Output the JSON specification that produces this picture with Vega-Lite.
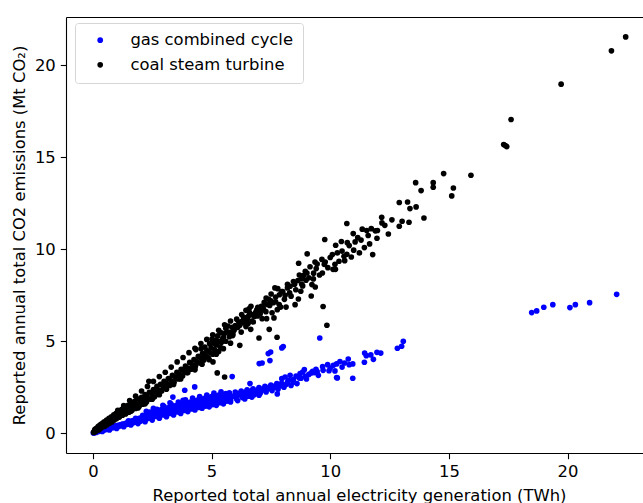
{
  "$schema": "https://vega.github.io/schema/vega-lite/v6.json",
  "autosize": {"type": "none"},
  "padding": {"left": 66, "top": 17, "right": 0, "bottom": 50},
  "width": 577,
  "height": 436,
  "config": {
    "font": "DejaVu Sans",
    "view": {"stroke": null},
    "axis": {
      "grid": false,
      "domainColor": "#000000",
      "domainWidth": 1.1,
      "tickColor": "#000000",
      "tickWidth": 1.1,
      "tickSize": 5.7,
      "labelColor": "#000000",
      "labelFontSize": 16.4,
      "titleColor": "#000000",
      "titleFontSize": 16.4,
      "titleFontWeight": "normal"
    }
  },
  "datasets": {
    "gas": [
      {"x":0.02,"y":0.02},{"x":0.05,"y":0.03},{"x":0.08,"y":0.05},{"x":0.1,"y":0.07},{"x":0.13,"y":0.05},{"x":0.15,"y":0.1},{"x":0.18,"y":0.08},{"x":0.2,"y":0.12},{"x":0.23,"y":0.1},{"x":0.26,"y":0.14},
      {"x":0.3,"y":0.12},{"x":0.33,"y":0.17},{"x":0.36,"y":0.14},{"x":0.4,"y":0.2},{"x":0.43,"y":0.17},{"x":0.47,"y":0.22},{"x":0.5,"y":0.19},{"x":0.54,"y":0.25},{"x":0.58,"y":0.21},{"x":0.62,"y":0.28},
      {"x":0.66,"y":0.24},{"x":0.7,"y":0.3},{"x":0.74,"y":0.27},{"x":0.78,"y":0.33},{"x":0.82,"y":0.3},{"x":0.86,"y":0.36},{"x":0.9,"y":0.32},{"x":0.95,"y":0.4},{"x":1.0,"y":0.35},{"x":1.05,"y":0.43},
      {"x":1.1,"y":0.38},{"x":1.15,"y":0.46},{"x":1.2,"y":0.42},{"x":1.25,"y":0.5},{"x":1.3,"y":0.45},{"x":1.35,"y":0.53},{"x":1.4,"y":0.48},{"x":1.45,"y":0.58},{"x":1.5,"y":0.5},{"x":1.55,"y":0.62},
      {"x":1.6,"y":0.54},{"x":1.65,"y":0.68},{"x":1.7,"y":0.57},{"x":1.75,"y":0.72},{"x":1.8,"y":0.6},{"x":1.85,"y":0.76},{"x":1.9,"y":0.63},{"x":1.95,"y":0.82},{"x":2.0,"y":0.66},{"x":2.05,"y":0.86},
      {"x":2.1,"y":0.72},{"x":2.15,"y":0.92},{"x":2.2,"y":0.75},{"x":2.25,"y":0.98},{"x":2.3,"y":0.8},{"x":2.35,"y":1.05},{"x":2.4,"y":0.84},{"x":2.45,"y":1.1},{"x":2.5,"y":0.88},{"x":2.55,"y":1.0},
      {"x":2.6,"y":1.18},{"x":2.65,"y":0.92},{"x":2.7,"y":1.08},{"x":2.75,"y":1.25},{"x":2.8,"y":0.96},{"x":2.85,"y":1.12},{"x":2.9,"y":1.3},{"x":2.95,"y":1.0},{"x":3.0,"y":1.18},{"x":3.05,"y":1.35},
      {"x":3.1,"y":1.04},{"x":3.15,"y":1.22},{"x":3.2,"y":1.4},{"x":3.25,"y":1.08},{"x":3.3,"y":1.28},{"x":3.35,"y":1.45},{"x":3.37,"y":1.97},{"x":3.4,"y":1.12},{"x":3.45,"y":1.32},{"x":3.5,"y":1.5},
      {"x":3.55,"y":1.16},{"x":3.6,"y":1.38},{"x":3.65,"y":1.55},{"x":3.7,"y":1.2},{"x":3.75,"y":1.42},{"x":3.8,"y":1.6},{"x":3.8,"y":1.79},{"x":3.85,"y":1.24},{"x":3.87,"y":2.34},{"x":3.9,"y":1.47},
      {"x":3.95,"y":1.65},{"x":4.0,"y":1.28},{"x":4.05,"y":1.52},{"x":4.1,"y":1.7},{"x":4.15,"y":1.32},{"x":4.2,"y":1.56},{"x":4.25,"y":1.75},{"x":4.29,"y":2.52},{"x":4.3,"y":1.36},{"x":4.35,"y":1.6},
      {"x":4.4,"y":1.8},{"x":4.45,"y":1.4},{"x":4.5,"y":1.65},{"x":4.55,"y":1.85},{"x":4.6,"y":1.44},{"x":4.65,"y":1.7},{"x":4.7,"y":1.9},{"x":4.75,"y":1.48},{"x":4.8,"y":1.74},{"x":4.85,"y":1.95},
      {"x":4.9,"y":1.52},{"x":4.95,"y":1.78},{"x":5.0,"y":2.0},{"x":5.05,"y":1.56},{"x":5.1,"y":1.82},{"x":5.15,"y":2.04},{"x":5.2,"y":1.6},{"x":5.25,"y":1.86},{"x":5.3,"y":2.08},{"x":5.35,"y":1.66},
      {"x":5.4,"y":1.9},{"x":5.45,"y":2.12},{"x":5.5,"y":1.7},{"x":5.55,"y":1.94},{"x":5.6,"y":2.16},{"x":5.65,"y":1.75},{"x":5.7,"y":1.98},{"x":5.75,"y":2.2},{"x":5.8,"y":1.8},{"x":5.87,"y":3.08},
      {"x":5.9,"y":2.02},{"x":6.0,"y":2.24},{"x":6.05,"y":1.88},{"x":6.15,"y":2.08},{"x":6.25,"y":2.3},{"x":6.3,"y":1.95},{"x":6.4,"y":2.14},{"x":6.5,"y":2.36},{"x":6.55,"y":2.02},{"x":6.62,"y":2.7},
      {"x":6.65,"y":2.2},{"x":6.75,"y":2.42},{"x":6.8,"y":2.1},{"x":6.9,"y":2.28},{"x":7.0,"y":2.48},{"x":7.01,"y":3.79},{"x":7.05,"y":2.18},{"x":7.13,"y":3.82},{"x":7.15,"y":2.35},{"x":7.25,"y":2.55},
      {"x":7.3,"y":2.25},{"x":7.39,"y":4.33},{"x":7.4,"y":2.42},{"x":7.46,"y":3.95},{"x":7.49,"y":4.42},{"x":7.5,"y":2.62},{"x":7.55,"y":2.32},{"x":7.65,"y":2.5},{"x":7.75,"y":2.7},{"x":7.77,"y":2.14},
      {"x":7.8,"y":2.4},{"x":7.9,"y":2.58},{"x":7.96,"y":2.97},{"x":7.96,"y":4.64},{"x":8.02,"y":4.71},{"x":8.05,"y":2.5},{"x":8.1,"y":3.06},{"x":8.15,"y":2.66},{"x":8.25,"y":2.88},{"x":8.31,"y":3.15},
      {"x":8.35,"y":2.6},{"x":8.45,"y":2.78},{"x":8.56,"y":3.11},{"x":8.6,"y":2.7},{"x":8.73,"y":3.24},{"x":8.77,"y":2.99},{"x":8.84,"y":3.33},{"x":8.91,"y":3.46},{"x":9.0,"y":2.95},{"x":9.1,"y":3.2},
      {"x":9.26,"y":3.37},{"x":9.33,"y":3.3},{"x":9.4,"y":3.48},{"x":9.5,"y":3.15},{"x":9.56,"y":5.18},{"x":9.68,"y":3.62},{"x":9.89,"y":3.73},{"x":9.95,"y":3.4},{"x":10.13,"y":3.7},{"x":10.2,"y":3.39},
      {"x":10.27,"y":3.77},{"x":10.27,"y":3.03},{"x":10.3,"y":3.01},{"x":10.41,"y":3.9},{"x":10.76,"y":4.04},{"x":10.8,"y":3.73},{"x":10.95,"y":3.77},{"x":10.95,"y":2.99},{"x":11.44,"y":3.86},{"x":11.45,"y":4.36},
      {"x":11.52,"y":4.22},{"x":11.71,"y":4.26},{"x":11.82,"y":4.02},{"x":11.97,"y":4.4},{"x":12.13,"y":4.36},{"x":12.83,"y":4.62},{"x":13.01,"y":4.73},{"x":13.08,"y":5.0},
      {"x":18.49,"y":6.56},{"x":18.7,"y":6.65},{"x":19.0,"y":6.85},{"x":19.38,"y":6.99},{"x":20.1,"y":6.83},{"x":20.33,"y":6.99},{"x":20.93,"y":7.1},{"x":22.07,"y":7.55},
      {"x":1.5,"y":0.68},{"x":1.8,"y":0.82},{"x":2.1,"y":0.98},{"x":2.4,"y":1.15},{"x":2.7,"y":1.3},{"x":3.0,"y":1.45},{"x":3.3,"y":1.58},{"x":3.6,"y":1.7},{"x":3.9,"y":1.82},{"x":4.2,"y":1.92},
      {"x":4.5,"y":2.0},{"x":4.8,"y":2.08},{"x":5.1,"y":2.18},{"x":5.4,"y":2.25},
      {"x":2.55,"y":1.36},{"x":2.95,"y":1.52},{"x":3.25,"y":1.65},{"x":2.25,"y":1.2},
      {"x":0.6,"y":0.3},{"x":0.9,"y":0.38},{"x":1.2,"y":0.48},{"x":1.6,"y":0.6},{"x":2.0,"y":0.78},{"x":2.4,"y":0.95},{"x":2.8,"y":1.06},{"x":3.2,"y":1.22},{"x":3.6,"y":1.3},{"x":4.0,"y":1.42},
      {"x":4.4,"y":1.55},{"x":4.8,"y":1.65},{"x":5.2,"y":1.75},{"x":5.6,"y":1.86},{"x":6.0,"y":2.0},{"x":6.2,"y":2.18},{"x":6.45,"y":2.25},{"x":6.7,"y":2.32},{"x":6.95,"y":2.38},{"x":7.2,"y":2.45},
      {"x":7.45,"y":2.52},{"x":7.7,"y":2.6},{"x":7.95,"y":2.72},{"x":8.2,"y":2.78},{"x":8.45,"y":2.92},{"x":8.7,"y":3.0},{"x":8.95,"y":3.1},{"x":9.2,"y":3.28},{"x":9.45,"y":3.35},{"x":9.7,"y":3.42},
      {"x":10.0,"y":3.55},{"x":10.5,"y":3.6},{"x":10.6,"y":3.82},
      {"x":0.4,"y":0.1},{"x":0.7,"y":0.18},{"x":1.0,"y":0.26},{"x":1.3,"y":0.36},{"x":1.6,"y":0.45},{"x":1.9,"y":0.53},{"x":2.2,"y":0.63},{"x":2.5,"y":0.72},{"x":2.8,"y":0.82},{"x":3.1,"y":0.9},
      {"x":3.4,"y":1.0},{"x":3.7,"y":1.08},{"x":4.0,"y":1.18},{"x":4.3,"y":1.27},{"x":4.6,"y":1.36},{"x":4.9,"y":1.44},{"x":5.2,"y":1.52},{"x":5.5,"y":1.6},{"x":5.8,"y":1.7},{"x":6.1,"y":1.78},
      {"x":6.4,"y":1.87},{"x":6.7,"y":1.97},{"x":7.0,"y":2.07}
    ],
    "coal": [
      {"x":0.03,"y":0.05},{"x":0.06,"y":0.12},{"x":0.08,"y":0.2},{"x":0.1,"y":0.08},{"x":0.12,"y":0.25},{"x":0.15,"y":0.15},{"x":0.18,"y":0.3},{"x":0.2,"y":0.22},{"x":0.23,"y":0.38},{"x":0.25,"y":0.18},
      {"x":0.28,"y":0.33},{"x":0.3,"y":0.45},{"x":0.33,"y":0.28},{"x":0.36,"y":0.5},{"x":0.4,"y":0.36},{"x":0.42,"y":0.56},{"x":0.45,"y":0.42},{"x":0.48,"y":0.62},{"x":0.5,"y":0.38},{"x":0.54,"y":0.55},
      {"x":0.58,"y":0.72},{"x":0.6,"y":0.47},{"x":0.64,"y":0.66},{"x":0.68,"y":0.82},{"x":0.7,"y":0.55},{"x":0.74,"y":0.74},{"x":0.78,"y":0.9},{"x":0.8,"y":0.62},{"x":0.84,"y":0.82},{"x":0.88,"y":1.0},
      {"x":0.9,"y":0.72},{"x":0.94,"y":0.9},{"x":0.98,"y":1.08},{"x":1.0,"y":0.8},{"x":1.05,"y":0.98},{"x":1.1,"y":1.18},{"x":1.12,"y":0.88},{"x":1.17,"y":1.06},{"x":1.22,"y":1.3},{"x":1.25,"y":0.98},
      {"x":1.3,"y":1.16},{"x":1.35,"y":1.4},{"x":1.38,"y":1.05},{"x":1.43,"y":1.26},{"x":1.48,"y":1.52},{"x":1.52,"y":1.15},{"x":1.56,"y":1.36},{"x":1.6,"y":1.6},{"x":1.65,"y":1.25},{"x":1.7,"y":1.48},
      {"x":1.75,"y":1.72},{"x":1.8,"y":1.35},{"x":1.85,"y":1.58},{"x":1.9,"y":1.86},{"x":1.95,"y":1.45},{"x":2.0,"y":1.7},{"x":2.05,"y":1.95},{"x":2.1,"y":1.58},{"x":2.15,"y":1.84},{"x":2.2,"y":2.1},
      {"x":2.26,"y":1.7},{"x":2.3,"y":1.96},{"x":2.36,"y":2.83},{"x":2.38,"y":2.22},{"x":2.44,"y":1.85},{"x":2.5,"y":2.1},{"x":2.55,"y":2.38},{"x":2.6,"y":1.98},{"x":2.66,"y":2.25},{"x":2.7,"y":2.55},
      {"x":2.76,"y":2.12},{"x":2.81,"y":2.34},{"x":2.85,"y":2.66},{"x":2.9,"y":2.3},{"x":2.96,"y":2.55},{"x":3.0,"y":2.82},{"x":3.06,"y":2.45},{"x":3.12,"y":2.7},{"x":3.18,"y":2.98},{"x":3.24,"y":2.6},
      {"x":3.3,"y":2.85},{"x":3.35,"y":3.15},{"x":3.42,"y":2.78},{"x":3.48,"y":3.05},{"x":3.54,"y":3.32},{"x":3.6,"y":2.95},{"x":3.66,"y":3.2},{"x":3.72,"y":3.48},{"x":3.78,"y":3.12},{"x":3.84,"y":3.38},
      {"x":3.9,"y":3.65},{"x":3.96,"y":3.3},{"x":4.02,"y":3.55},{"x":4.08,"y":3.85},{"x":4.14,"y":3.48},{"x":4.2,"y":3.72},{"x":4.26,"y":4.0},{"x":4.29,"y":3.51},{"x":4.32,"y":3.65},{"x":4.38,"y":3.9},
      {"x":4.44,"y":4.18},{"x":4.5,"y":3.82},{"x":4.56,"y":4.08},{"x":4.62,"y":4.35},{"x":4.68,"y":3.98},{"x":4.74,"y":4.22},{"x":4.8,"y":4.5},{"x":4.86,"y":4.12},{"x":4.92,"y":4.4},{"x":4.98,"y":4.65},
      {"x":5.06,"y":3.88},{"x":5.24,"y":3.28},{"x":5.55,"y":3.06},{"x":5.05,"y":4.3},{"x":5.12,"y":4.55},{"x":5.2,"y":4.8},{"x":5.3,"y":4.45},{"x":5.36,"y":4.7},{"x":5.42,"y":4.95},
      {"x":4.34,"y":4.55},{"x":4.56,"y":4.6},{"x":4.72,"y":4.69},{"x":4.92,"y":4.87},{"x":5.02,"y":5.12},{"x":5.17,"y":5.07},{"x":5.26,"y":5.29},{"x":5.39,"y":5.47},{"x":5.47,"y":5.14},{"x":5.55,"y":5.43},
      {"x":5.6,"y":5.71},{"x":5.69,"y":5.83},{"x":5.81,"y":5.49},{"x":5.87,"y":5.76},{"x":5.89,"y":5.31},{"x":6.06,"y":6.2},{"x":6.19,"y":4.78},{"x":6.19,"y":5.87},{"x":6.27,"y":6.45},{"x":6.37,"y":6.0},
      {"x":6.38,"y":6.27},{"x":6.45,"y":6.68},{"x":6.54,"y":5.96},{"x":6.55,"y":6.36},{"x":6.58,"y":6.76},{"x":6.65,"y":5.65},{"x":6.66,"y":6.9},{"x":6.76,"y":6.05},{"x":6.86,"y":6.58},{"x":6.94,"y":6.38},
      {"x":7.0,"y":5.18},{"x":7.01,"y":6.67},{"x":7.13,"y":6.23},{"x":7.17,"y":6.85},{"x":7.22,"y":7.12},{"x":7.29,"y":6.61},{"x":7.32,"y":6.23},{"x":7.41,"y":7.28},{"x":7.43,"y":5.65},{"x":7.51,"y":7.57},
      {"x":7.6,"y":7.1},{"x":7.63,"y":6.27},{"x":7.67,"y":7.9},{"x":7.76,"y":5.22},{"x":7.77,"y":6.72},{"x":7.79,"y":7.86},{"x":7.86,"y":7.53},{"x":7.91,"y":6.86},{"x":8.07,"y":7.28},{"x":8.14,"y":6.86},
      {"x":8.29,"y":7.63},{"x":8.31,"y":7.99},{"x":8.52,"y":6.99},{"x":8.64,"y":8.3},{"x":8.66,"y":7.3},{"x":8.67,"y":9.24},{"x":8.76,"y":7.72},{"x":8.84,"y":8.01},{"x":8.87,"y":8.57},{"x":8.98,"y":8.32},
      {"x":9.02,"y":8.71},{"x":9.03,"y":9.75},{"x":9.2,"y":7.46},{"x":9.23,"y":8.08},{"x":9.29,"y":8.39},{"x":9.36,"y":9.31},{"x":9.37,"y":7.95},{"x":9.41,"y":8.95},{"x":9.67,"y":8.71},{"x":9.7,"y":6.89},
      {"x":9.75,"y":9.18},{"x":9.77,"y":10.53},{"x":9.79,"y":9.31},{"x":9.86,"y":5.87},{"x":10.09,"y":9.71},{"x":10.12,"y":8.91},{"x":10.2,"y":9.18},{"x":10.22,"y":8.91},{"x":10.23,"y":10.22},{"x":10.37,"y":9.35},
      {"x":10.47,"y":10.42},{"x":10.58,"y":9.62},{"x":10.61,"y":9.38},{"x":10.7,"y":9.73},{"x":10.7,"y":11.4},{"x":10.72,"y":10.36},{"x":10.89,"y":9.58},{"x":10.97,"y":10.85},{"x":10.99,"y":9.95},{"x":11.16,"y":10.63},
      {"x":11.23,"y":9.8},{"x":11.35,"y":11.09},{"x":11.44,"y":10.09},{"x":11.54,"y":11.02},{"x":11.66,"y":10.29},{"x":11.73,"y":11.12},{"x":11.79,"y":9.71},{"x":11.97,"y":10.6},{"x":11.99,"y":11.02},{"x":12.17,"y":11.74},
      {"x":12.18,"y":11.43},{"x":12.45,"y":10.83},{"x":12.91,"y":12.54},{"x":12.91,"y":11.25},{"x":13.03,"y":11.52},{"x":13.26,"y":12.57},{"x":13.32,"y":11.47},{"x":13.36,"y":12.21},{"x":13.62,"y":12.3},{"x":13.95,"y":11.7},
      {"x":13.6,"y":13.62},{"x":13.83,"y":13.19},{"x":14.34,"y":13.62},{"x":14.34,"y":13.37},{"x":14.78,"y":14.11},{"x":15.12,"y":12.9},{"x":15.19,"y":13.33},{"x":15.93,"y":14.02},
      {"x":5.1,"y":4.9},{"x":5.3,"y":5.0},{"x":5.5,"y":5.2},{"x":5.7,"y":5.5},{"x":5.95,"y":5.6},{"x":6.1,"y":5.75},{"x":6.3,"y":6.1},{"x":6.5,"y":6.2},{"x":6.7,"y":6.45},{"x":6.9,"y":6.7},
      {"x":7.1,"y":6.9},{"x":7.35,"y":7.0},{"x":7.5,"y":7.2},{"x":7.7,"y":7.4},{"x":8.0,"y":7.7},{"x":8.2,"y":7.9},{"x":8.5,"y":8.1},{"x":8.8,"y":8.4},
      {"x":1.05,"y":1.25},{"x":1.3,"y":1.5},{"x":1.55,"y":1.78},{"x":1.8,"y":2.02},{"x":2.05,"y":2.3},{"x":2.3,"y":2.55},{"x":2.55,"y":2.82},{"x":2.8,"y":3.08},{"x":3.05,"y":3.32},{"x":3.3,"y":3.6},
      {"x":3.55,"y":3.88},{"x":3.8,"y":4.12},{"x":4.05,"y":4.38},{"x":4.3,"y":4.62},{"x":4.55,"y":4.88},{"x":4.8,"y":5.1},{"x":5.05,"y":5.35},{"x":5.3,"y":5.6},{"x":5.55,"y":5.9},{"x":5.8,"y":6.1},
      {"x":1.6,"y":1.2},{"x":1.9,"y":1.38},{"x":2.2,"y":1.6},{"x":2.5,"y":1.85},{"x":2.8,"y":2.1},{"x":3.1,"y":2.4},{"x":3.4,"y":2.65},{"x":3.7,"y":2.95},{"x":4.0,"y":3.3},{"x":4.3,"y":3.45},
      {"x":4.6,"y":3.75},{"x":4.9,"y":4.0},{"x":5.2,"y":4.3},{"x":5.5,"y":4.6},{"x":5.8,"y":4.9},
      {"x":5.6,"y":5.0},{"x":5.75,"y":5.25},{"x":5.9,"y":5.4},{"x":6.0,"y":5.85},{"x":6.15,"y":6.05},{"x":6.25,"y":5.5},{"x":6.35,"y":6.3},{"x":6.45,"y":5.8},{"x":6.6,"y":6.55},{"x":6.7,"y":6.1},
      {"x":6.8,"y":6.35},{"x":6.95,"y":6.85},{"x":7.05,"y":6.5},{"x":7.2,"y":6.7},{"x":7.3,"y":7.35},{"x":7.45,"y":6.95},{"x":7.55,"y":6.55},{"x":7.7,"y":7.15},{"x":7.85,"y":7.0},{"x":7.95,"y":7.7},
      {"x":8.1,"y":7.5},{"x":8.2,"y":8.1},{"x":8.35,"y":7.45},{"x":8.45,"y":8.25},{"x":8.55,"y":7.8},{"x":8.7,"y":8.6},{"x":8.8,"y":8.1},{"x":8.95,"y":8.8},{"x":9.1,"y":8.45},{"x":9.15,"y":9.05},
      {"x":9.3,"y":8.7},{"x":9.45,"y":9.2},{"x":9.55,"y":8.6},{"x":9.65,"y":9.45},{"x":9.9,"y":9.0},{"x":10.0,"y":9.55},{"x":10.3,"y":9.8},{"x":10.5,"y":9.9},{"x":10.8,"y":10.2},{"x":11.05,"y":10.4},
      {"x":11.3,"y":10.5},{"x":11.6,"y":10.75},{"x":11.9,"y":11.0},{"x":12.3,"y":11.3},{"x":12.6,"y":11.6},
      {"x":17.31,"y":15.69},{"x":17.44,"y":15.58},{"x":17.38,"y":15.64},{"x":17.62,"y":17.05},{"x":19.73,"y":18.97},{"x":21.85,"y":20.78},{"x":22.45,"y":21.54}
    ]
  },
  "encoding": {
    "x": {"field": "x", "type": "quantitative", "scale": {"domain": [-1.133, 23.18], "nice": false, "zero": false}},
    "y": {
      "field": "y", "type": "quantitative",
      "scale": {"domain": [-1.07, 22.62], "nice": false, "zero": false},
      "axis": {
        "values": [0, 5, 10, 15, 20],
        "labelPadding": 5,
        "title": "Reported annual total CO2 emissions (Mt CO₂)",
        "titleX": -41.5, "titleY": 218, "titleAlign": "center", "titleBaseline": "alphabetic", "titleAngle": -90
      }
    }
  },
  "layer": [
    {
      "data": {"name": "gas"},
      "mark": {"type": "circle", "size": 32, "opacity": 1},
      "encoding": {
        "x": {"field": "x", "type": "quantitative",
          "axis": {"orient": "bottom", "values": [0, 5, 10, 15, 20], "labelPadding": 5,
            "title": "Reported total annual electricity generation (TWh)",
            "titleX": 293, "titleY": 47, "titleAlign": "center", "titleBaseline": "alphabetic"}},
        "color": {
          "datum": "gas combined cycle",
          "scale": {"domain": ["gas combined cycle", "coal steam turbine"], "range": ["#0000ff", "#000000"]},
          "legend": {
            "title": null, "orient": "none", "legendX": 9, "legendY": 6,
            "fillColor": "#ffffff", "strokeColor": "#d6d6d6", "cornerRadius": 3, "padding": 9,
            "symbolType": "circle", "symbolSize": 32, "symbolOffset": 8, "labelOffset": 22, "labelLimit": 400,
            "rowPadding": 7.6, "labelFontSize": 16.4, "labelColor": "#000000", "labelFont": "DejaVu Sans"
          }
        }
      }
    },
    {
      "data": {"name": "coal"},
      "mark": {"type": "circle", "size": 32, "opacity": 1},
      "encoding": {
        "x": {"field": "x", "type": "quantitative",
          "axis": {"orient": "top", "labels": false, "ticks": false, "title": null, "domain": true}},
        "color": {"datum": "coal steam turbine"}
      }
    }
  ],
  "resolve": {"axis": {"x": "independent"}}
}
